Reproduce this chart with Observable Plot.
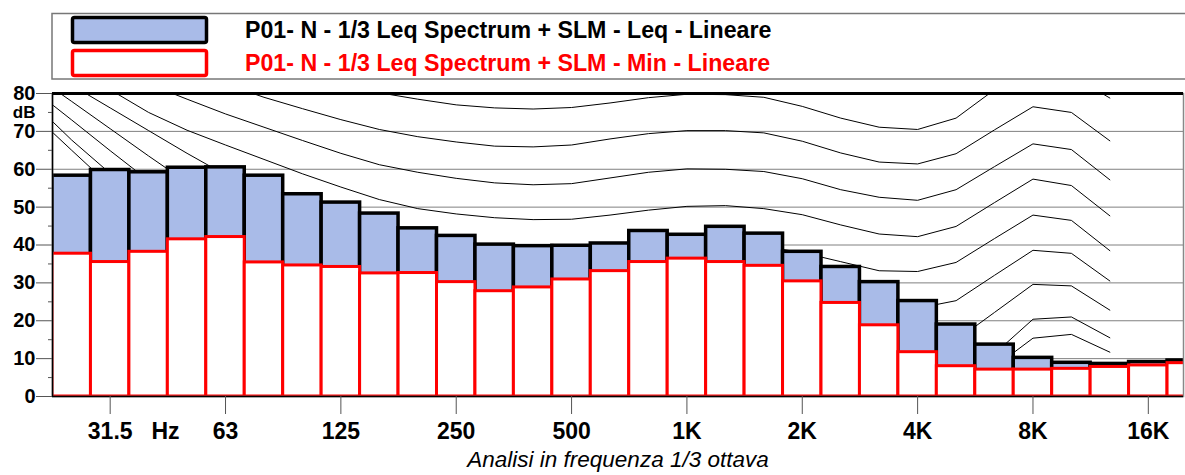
<!DOCTYPE html>
<html>
<head>
<meta charset="utf-8">
<script src="https://cdn.jsdelivr.net/npm/d3@7"></script>
<script src="https://cdn.jsdelivr.net/npm/@observablehq/plot@0.6"></script>
<style>
  html, body { margin: 0; padding: 0; background: #fff; }
  body { width: 1185px; height: 475px; overflow: hidden; font-family: "Liberation Sans", Arial, sans-serif; }
  #legend, #chart, #legend svg, #chart svg { display: block; }
</style>
</head>
<body>
<div id="legend"></div>
<div id="chart"></div>
<script>
// 1/3 octave bands shown on the chart
const bands = ["25","31.5","40","50","63","80","100","125","160","200","250","315","400","500","630","800",
  "1K","1.25K","1.6K","2K","2.5K","3.15K","4K","5K","6.3K","8K","10K","12.5K","16K","20K"];
// Leq spectrum (dB, linear)
const leqValues = [58.3,59.8,59.2,60.4,60.5,58.3,53.4,51.2,48.3,44.4,42.4,40.1,39.7,39.8,40.4,43.7,
  42.7,44.8,43.0,38.2,34.2,30.2,25.2,19.0,13.7,10.2,8.9,8.6,9.1,9.5];
// Min spectrum (dB, linear)
const minValues = [37.7,35.5,38.2,41.5,42.1,35.4,34.6,34.2,32.5,32.6,30.2,27.8,28.8,30.9,33.1,35.5,
  36.4,35.5,34.5,30.4,24.7,18.8,11.7,8.0,7.1,7.1,7.3,7.8,8.2,8.8];

// Equal-loudness contours (20 Hz .. 12.5 kHz)
const contourBands = ["20","25","31.5","40","50","63","80","100","125","160","200","250","315","400","500","630","800",
  "1K","1.25K","1.6K","2K","2.5K","3.15K","4K","5K","6.3K","8K","10K","12.5K"];
const contour80 = [108,104,100,96,92.5,89.5,87,84.5,82.3,80.2,78.5,77.0,76.2,75.9,76.3,77.5,78.9,79.8,79.7,79.0,76.6,73.5,71.1,70.5,73.5,81.0,86.5,84.8,78.8];
const contour70 = [102,98,94,90,86,82.5,79.0,76.0,73.1,70.5,68.6,67.2,66.1,65.9,66.4,68.0,69.4,70.2,70.2,69.6,67.4,64.3,61.9,61.4,64.1,70.4,76.5,75.0,67.5];
const contour60 = [96,91.5,87,82.5,78.5,74.6,71.1,67.6,64.2,61.2,59.2,57.6,56.4,55.9,56.2,57.7,59.2,60.1,60.0,59.4,57.5,54.6,52.6,51.8,54.6,60.7,66.7,65.2,57.2];
const contour50 = [92,86.5,81.0,75.0,70.3,66.4,62.6,58.8,55.3,52.0,49.6,48.2,47.2,46.7,46.8,47.9,49.2,50.2,50.4,49.6,48.0,45.3,42.9,42.2,44.9,51.2,57.4,55.7,47.7];
const contour40 = [89,82.2,76.2,70.2,64.2,58.5,53.5,49.5,46.0,43.0,40.6,38.8,37.6,37.0,37.0,38.0,39.2,40.0,40.3,39.6,38.0,35.6,33.2,33.0,35.4,41.7,47.9,46.5,38.5];
const contour30 = [85,77.9,70.7,63.5,56.5,50,44.5,40,36.3,33.3,31.0,29.4,28.3,27.7,27.6,28.4,29.4,30.0,30.2,29.6,28.0,25.6,23.4,23.3,25.3,32.0,38.6,37.8,30.5];
const contour20 = [81,73.0,64.9,57,49.5,42.5,36.5,31.5,27.0,23.5,21.2,19.6,18.5,17.9,17.8,18.5,19.4,20.0,20.2,19.6,18.0,15.6,13.4,13.3,14.8,22.2,29.6,29.2,22.8];
const contour10 = [77.5,67.7,58.9,50,41.5,34,28,22.5,18,14.5,12.0,10.3,9.0,8.3,8.0,8.6,9.5,10.0,10.2,9.6,8.0,5.6,3.4,3.3,4.8,11.3,20.4,21.0,15.5];
const contourMin = [74.5,65.0,55.6,46.5,38,30.5,24,18.5,14,10.5,8,6.3,5,4.3,4,4.5,5.5,6,6.2,5.6,4,1.5,-0.5,-0.7,0.8,7.8,15.4,16.4,11.7];

// axis texts
const yTicks = [0,10,20,30,40,50,60,70,80];
const yMinorTicks = [5,15,25,35,45,55,65,75];
const yUnit = "dB";
const yUnitAt = 75;
const xTickBands = ["31.5","63","125","250","500","1K","2K","4K","8K","16K"];
const xUnit = "Hz";
const xUnitBetween = ["40","50"];
const xTitle = "Analisi in frequenza 1/3 ottava";
const legendLabels = ["P01- N - 1/3 Leq Spectrum + SLM - Leq - Lineare", "P01- N - 1/3 Leq Spectrum + SLM - Min - Lineare"];

const FONT = "Liberation Sans, Arial, Helvetica, sans-serif";
const BLUE = "#a9bbe8";

// ---------- legend ----------
{
  const svg = d3.create("svg").attr("width", 1185).attr("height", 84)
    .style("font-family", FONT);
  svg.append("rect").attr("x", 52).attr("y", 13.5).attr("width", 1140).attr("height", 65.5)
    .attr("fill", "none").attr("stroke", "#777").attr("stroke-width", 1.5);
  const items = [
    {label: legendLabels[0], fill: BLUE, stroke: "black", color: "black"},
    {label: legendLabels[1], fill: "white", stroke: "#ff0000", color: "#ff0000"}
  ];
  items.forEach((it, k) => {
    const cy = 30 + k * 33;
    svg.append("rect").attr("x", 72.5).attr("y", cy - 12.5).attr("width", 134).attr("height", 25)
      .attr("rx", 2).attr("fill", it.fill).attr("stroke", it.stroke).attr("stroke-width", 3.5);
    svg.append("text").attr("x", 245).attr("y", cy).attr("dy", "0.35em")
      .attr("fill", it.color).attr("font-weight", "bold").attr("font-size", 23.2).text(it.label);
  });
  document.getElementById("legend").appendChild(svg.node());
}

// ---------- chart ----------
const bandIndex = b => bands.indexOf(b);
const contourIndex = b => contourBands.indexOf(b) - contourBands.indexOf(bands[0]);
const leqRows = bands.map((b, i) => ({i: bandIndex(b), v: leqValues[i]}));
const minRows = bands.map((b, i) => ({i: bandIndex(b), v: minValues[i]}));
const contours = [contour80, contour70, contour60, contour50, contour40, contour30, contour20, contour10, contourMin];
const contourRows = contours.flatMap((c, k) => c.map((v, j) => ({k, x: contourIndex(contourBands[j]), y: v})));

const xMin = -0.5, xMax = 28.915;
const hzPos = (bandIndex(xUnitBetween[0]) + bandIndex(xUnitBetween[1])) / 2 - 0.06;

const chart = Plot.plot({
  width: 1185,
  height: 391,
  marginTop: 9,
  marginBottom: 79,
  marginLeft: 52,
  marginRight: 2,
  style: {fontFamily: FONT, background: "white", overflow: "visible"},
  x: {type: "linear", domain: [xMin, xMax], axis: null},
  y: {domain: [0, 80], axis: null},
  marks: [
    Plot.ruleY(yTicks.filter(t => t > 0 && t < 80), {stroke: "#808080", strokeWidth: 1}),
    Plot.line(contourRows, {x: "x", y: "y", z: "k", stroke: "black", strokeWidth: 1, clip: true}),
    Plot.rectY(leqRows, {x1: d => d.i - 0.5, x2: d => d.i + 0.5, y: "v", fill: BLUE, stroke: "black", strokeWidth: 3.5, clip: true}),
    Plot.rectY(minRows, {x1: d => d.i - 0.5, x2: d => d.i + 0.5, y: "v", fill: "white", stroke: "#ff0000", strokeWidth: 3, clip: true}),
    Plot.frame({stroke: "#888", strokeWidth: 1.5}),
    Plot.ruleY([0], {stroke: "black", strokeWidth: 1.5}),
    Plot.ruleY([80], {stroke: "black", strokeWidth: 3}),
    Plot.ruleX([xMin], {stroke: "black", strokeWidth: 1.5}),
    Plot.axisY({ticks: yTicks, tickSize: 16, tickPadding: 1, stroke: "#555", fill: "black",
      fontSize: 20, fontWeight: "bold", tickFormat: d => String(d)}),
    Plot.axisY({ticks: yMinorTicks, tickSize: 4, stroke: "#555", tickFormat: () => ""}),
    Plot.axisY({ticks: [yUnitAt], tickSize: 0, tickPadding: 17, fill: "black", fontSize: 17, fontWeight: "bold",
      tickFormat: () => yUnit, dy: 0}),
    Plot.axisX({ticks: xTickBands.map(bandIndex), tickSize: 18, tickPadding: 8, stroke: "#555", fill: "black",
      fontSize: 23, fontWeight: "bold", tickFormat: d => bands[d], label: null}),
    Plot.axisX({ticks: [hzPos], tickSize: 0, tickPadding: 26, fill: "black",
      fontSize: 23, fontWeight: "bold", tickFormat: () => xUnit, label: null}),
    Plot.text([xTitle], {frameAnchor: "bottom", dy: 70, fontSize: 22.5, fontStyle: "italic", fill: "black"})
  ]
});
document.getElementById("chart").appendChild(chart);
</script>
</body>
</html>
